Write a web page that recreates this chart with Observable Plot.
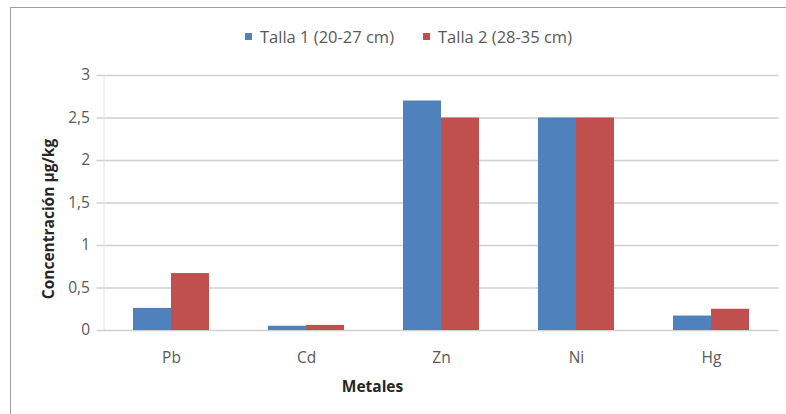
<!DOCTYPE html>
<html>
<head>
<meta charset="utf-8">
<script src="https://cdn.jsdelivr.net/npm/d3@7"></script>
<script src="https://cdn.jsdelivr.net/npm/@observablehq/plot@0.6"></script>
<style>
  html, body { margin: 0; padding: 0; background: #fff; }
  #wrap { position: relative; width: 786px; height: 414px; overflow: hidden; font-family: "Open Sans", Lato, sans-serif; }
  #frame { position: absolute; left: 10px; top: 7px; width: 800px; height: 420px; border: 1.5px solid #a0a0a0; box-sizing: border-box; pointer-events: none; }
  #legend { position: relative; height: 60px; font-size: 16.5px; color: #595959; }
  .item { position: absolute; top: 25px; display: flex; align-items: center; gap: 8px; white-space: nowrap; }
  .sw { width: 7px; height: 7px; display: inline-block; }
  svg { display: block; }
</style>
</head>
<body>
<div id="wrap">
  <div id="frame"></div>
  <div id="legend"></div>
  <div id="chart"></div>
</div>
<script>
const metals = ["Pb", "Cd", "Zn", "Ni", "Hg"];
const seriesNames = ["Talla 1 (20-27 cm)", "Talla 2 (28-35 cm)"];
const talla1 = [0.26, 0.05, 2.7, 2.5, 0.17];
const talla2 = [0.67, 0.06, 2.5, 2.5, 0.25];
const seriesColors = ["#4f81bd", "#c0504d"];
const yTicks = [0, 0.5, 1, 1.5, 2, 2.5, 3];
const xTitle = "Metales";
const yTitle = "Concentración µg/kg";

const rows = [];
metals.forEach((m, i) => {
  rows.push({metal: m, series: seriesNames[0], value: talla1[i]});
  rows.push({metal: m, series: seriesNames[1], value: talla2[i]});
});

// legend
const legend = document.getElementById("legend");
const legendLeft = [245, 423];
seriesNames.forEach((s, i) => {
  const it = document.createElement("span");
  it.className = "item";
  it.style.left = legendLeft[i] + "px";
  const sw = document.createElement("span");
  sw.className = "sw";
  sw.style.background = seriesColors[i];
  const t = document.createElement("span");
  t.textContent = s;
  it.appendChild(sw); it.appendChild(t);
  legend.appendChild(it);
});

const fmt = v => String(v).replace(".", ",");

const chart = Plot.plot({
  width: 786,
  height: 354,
  marginLeft: 103.5,
  marginRight: 7.5,
  marginTop: 15,
  marginBottom: 84,
  style: {fontFamily: "'Open Sans', Lato, sans-serif", fontSize: "15.5px", color: "#595959", overflow: "visible"},
  x: {domain: metals, paddingInner: 0.7185, paddingOuter: 0.359, label: null},
  y: {domain: [0, 3], label: null},
  color: {domain: seriesNames, range: seriesColors},
  marks: [
    Plot.ruleY(yTicks, {y: d => d, stroke: "#d0d0d0", strokeWidth: 1.3, insetLeft: -7}),
    Plot.ruleX([metals[0]], {x: d => d, stroke: "#e4e4e4", strokeWidth: 1, dx: -67.5}),
    Plot.barY(rows.filter(d => d.series === seriesNames[0]), {x: "metal", y: "value", fill: "series", dx: -19}),
    Plot.barY(rows.filter(d => d.series === seriesNames[1]), {x: "metal", y: "value", fill: "series", dx: 19}),
    Plot.axisY(yTicks, {tickFormat: fmt, tickSize: 0, tickPadding: 14, fill: "#595959", label: null}),
    Plot.axisX({tickSize: 0, tickPadding: 21, fill: "#595959", label: null}),
    Plot.text([yTitle], {frameAnchor: "left", dx: -55, dy: 16, rotate: -90, textAnchor: "middle", fontWeight: "bold", fill: "#262626", fontSize: 15.5}),
    Plot.text([xTitle], {frameAnchor: "bottom", dx: -69, dy: 61, fontWeight: "bold", fill: "#262626", fontSize: 15.5})
  ]
});
document.getElementById("chart").appendChild(chart);
</script>
</body>
</html>
